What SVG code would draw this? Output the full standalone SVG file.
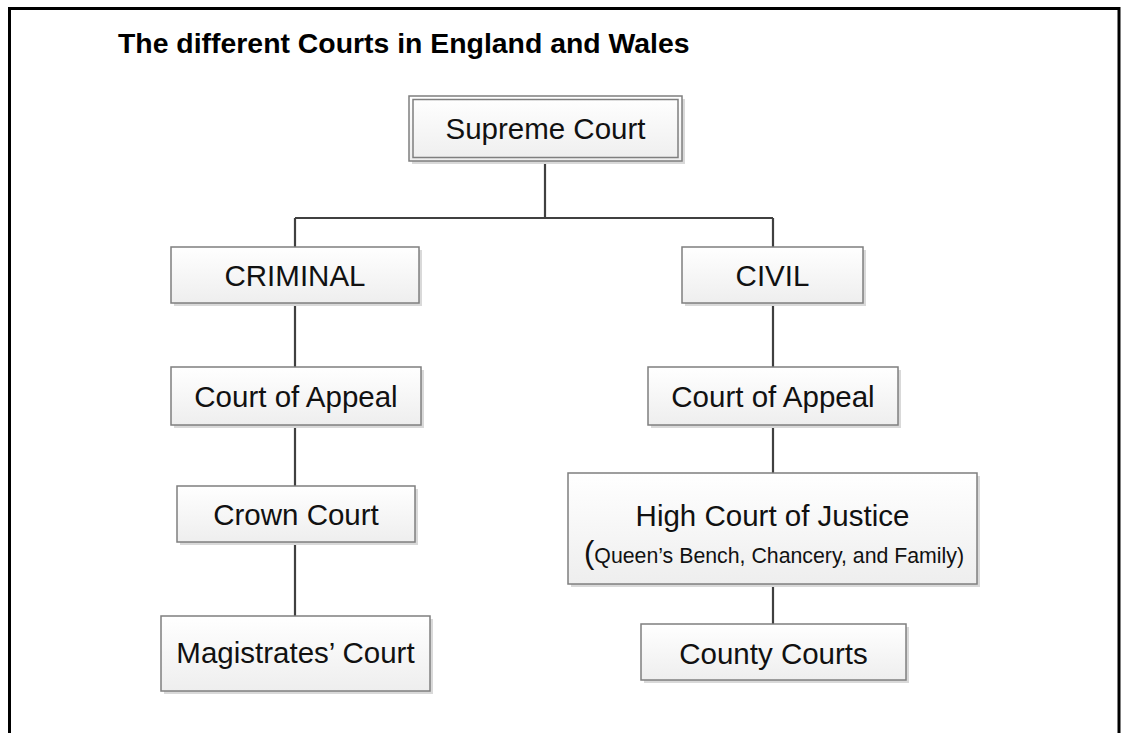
<svg xmlns="http://www.w3.org/2000/svg" width="1122" height="733" viewBox="0 0 1122 733">
<defs>
<linearGradient id="g" x1="0" y1="0" x2="0" y2="1">
<stop offset="0" stop-color="#ffffff"/>
<stop offset="1" stop-color="#eeeeee"/>
</linearGradient>
</defs>
<style>
.box{fill:url(#g);stroke:#7f7f7f;stroke-width:1.5}
.sh{fill:#d9d9d9}
.t{font-family:"Liberation Sans",Arial,sans-serif;font-size:29.5px;fill:#111;text-anchor:middle}
.ts{font-family:"Liberation Sans",Arial,sans-serif;font-size:21.3px;fill:#111;text-anchor:start}
.c{stroke:#404040;stroke-width:2.2;fill:none}
</style>
<rect width="1122" height="733" fill="#fff"/>
<path d="M9.5 740 V8.5 H1119 V740" fill="none" stroke="#000" stroke-width="3"/>
<text x="118" y="53" font-family="Liberation Sans,Arial,sans-serif" font-size="28.4" font-weight="bold" fill="#000">The different Courts in England and Wales</text>
<g id="connectors">
<path class="c" d="M545 161 V218 M295 218 H773 M295 218 V247 M773 218 V247"/>
<path class="c" d="M295 303 V367 M295 425 V486 M295 542 V616"/>
<path class="c" d="M773 303 V367 M773 425 V473 M773 584 V624"/>
</g>
<g id="supreme">
<rect class="sh" x="412" y="99" width="273" height="65"/>
<rect class="box" x="409" y="96" width="273" height="65"/>
<rect x="413" y="99.5" width="265" height="58" fill="none" stroke="#7f7f7f" stroke-width="1.5"/>
<text class="t" x="545.5" y="139">Supreme Court</text>
</g>
<g id="criminal">
<rect class="sh" x="174" y="250" width="248" height="56"/>
<rect class="box" x="171" y="247" width="248" height="56"/>
<text class="t" x="295" y="286">CRIMINAL</text>
</g>
<g id="civil">
<rect class="sh" x="685" y="250" width="181" height="56"/>
<rect class="box" x="682" y="247" width="181" height="56"/>
<text class="t" x="772.5" y="286">CIVIL</text>
</g>
<g id="appeal-criminal">
<rect class="sh" x="174" y="370" width="250" height="58"/>
<rect class="box" x="171" y="367" width="250" height="58"/>
<text class="t" x="296" y="407">Court of Appeal</text>
</g>
<g id="appeal-civil">
<rect class="sh" x="651" y="370" width="250" height="58"/>
<rect class="box" x="648" y="367" width="250" height="58"/>
<text class="t" x="773" y="407">Court of Appeal</text>
</g>
<g id="crown">
<rect class="sh" x="180" y="489" width="238" height="56"/>
<rect class="box" x="177" y="486" width="238" height="56"/>
<text class="t" x="296" y="525">Crown Court</text>
</g>
<g id="high">
<rect class="sh" x="571" y="476" width="409" height="111"/>
<rect class="box" x="568" y="473" width="409" height="111"/>
<text class="t" x="772.5" y="526">High Court of Justice</text>
<text class="ts" x="584" y="563"><tspan font-size="31">(</tspan>Queen’s Bench, Chancery, and Family)</text>
</g>
<g id="magistrates">
<rect class="sh" x="164" y="619" width="269" height="75"/>
<rect class="box" x="161" y="616" width="269" height="75"/>
<text class="t" x="295.5" y="663">Magistrates’ Court</text>
</g>
<g id="county">
<rect class="sh" x="644" y="627" width="265" height="56"/>
<rect class="box" x="641" y="624" width="265" height="56"/>
<text class="t" x="773.5" y="664">County Courts</text>
</g>
</svg>
